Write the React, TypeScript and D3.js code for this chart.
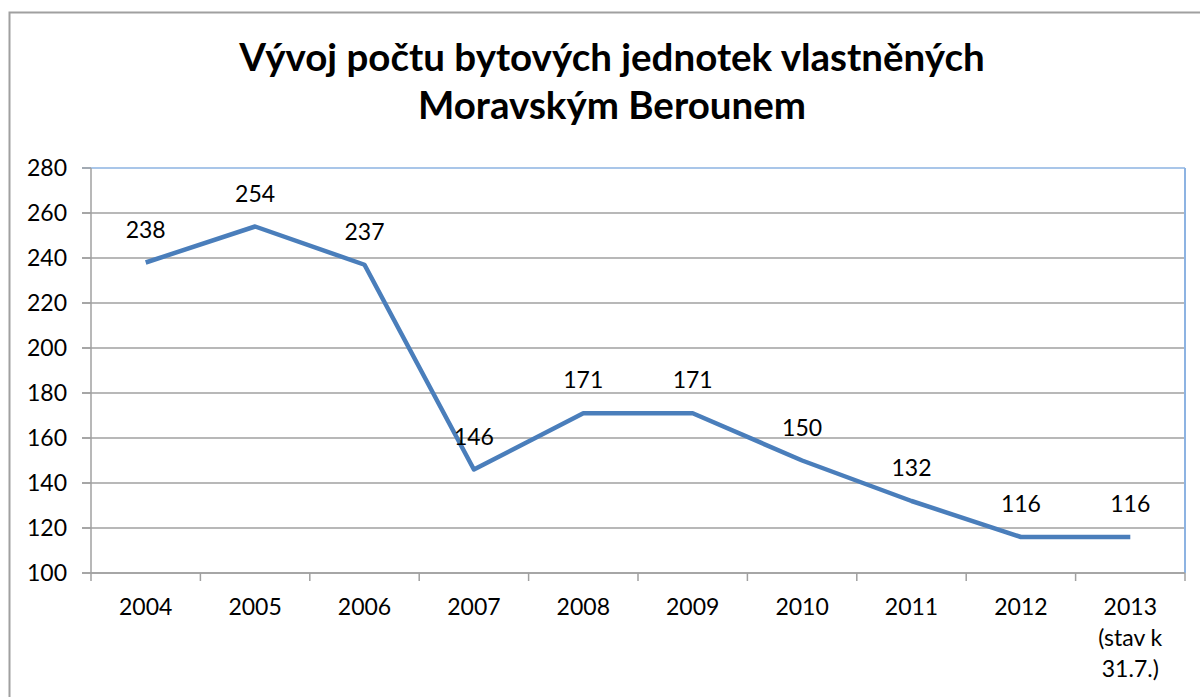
import React from "react";
import * as d3 from "d3";

const categories: string[][] = [
  ["2004"], ["2005"], ["2006"], ["2007"], ["2008"],
  ["2009"], ["2010"], ["2011"], ["2012"], ["2013", "(stav k", "31.7.)"],
];
const values: number[] = [238, 254, 237, 146, 171, 171, 150, 132, 116, 116];
const yTicks: number[] = [100, 120, 140, 160, 180, 200, 220, 240, 260, 280];
const titleLines: string[] = ["Vývoj počtu bytových jednotek vlastněných", "Moravským Berounem"];

const W = 1200, H = 697;
const left = 91, right = 1185, top = 168, bottom = 573;
const font = "Lato, 'Open Sans', sans-serif";

export default function App() {
  const keys = categories.map((c) => c[0]);
  const x = d3.scaleBand<string>().domain(keys).range([left, right]).padding(0);
  const y = d3.scaleLinear().domain([100, 280]).range([bottom, top]);
  const cx = (k: string) => (x(k) as number) + x.bandwidth() / 2;
  const line = d3.line<number>().x((_, i) => cx(keys[i])).y((d) => y(d));
  const bounds = keys.map((k) => x(k) as number).concat([right]);

  return (
    <svg width={W} height={H} style={{ position: "absolute", left: 0, top: 0, background: "#fff" }}>
      <rect x={9.5} y={12.5} width={W + 20} height={H + 20} fill="#fff" stroke="#a0a0a0" strokeWidth={2} />
      {titleLines.map((t, i) => (
        <text key={i} x={612} y={71 + i * 48} textAnchor="middle" fontFamily={font} fontWeight="bold" fontSize={38.5} fill="#000">
          {t}
        </text>
      ))}
      {yTicks.map((t) => (
        <g key={t}>
          <line x1={82} x2={right} y1={y(t)} y2={y(t)} stroke={t === 280 ? "#8db3e2" : "#a0a0a0"} strokeWidth={1.5} />
          <line x1={82} x2={left} y1={y(t)} y2={y(t)} stroke="#a0a0a0" strokeWidth={1.5} />
          <text x={67} y={y(t)} dy="0.36em" textAnchor="end" fontFamily={font} fontSize={23} fill="#000">
            {t}
          </text>
        </g>
      ))}
      <line x1={right} x2={right} y1={top} y2={bottom} stroke="#8db3e2" strokeWidth={2} />
      <line x1={left} x2={left} y1={top} y2={bottom} stroke="#a0a0a0" strokeWidth={1.5} />
      <line x1={left} x2={right} y1={bottom} y2={bottom} stroke="#a0a0a0" strokeWidth={1.5} />
      {bounds.map((b, i) => (
        <line key={i} x1={b} x2={b} y1={bottom} y2={bottom + 8} stroke="#a0a0a0" strokeWidth={1.5} />
      ))}
      {categories.map((c) => (
        <text key={c[0]} x={cx(c[0])} textAnchor="middle" fontFamily={font} fontSize={23} fill="#000">
          {c.map((l, j) => (
            <tspan key={j} x={cx(c[0])} y={615 + j * 31}>{l}</tspan>
          ))}
        </text>
      ))}
      <path d={line(values) as string} fill="none" stroke="#4a7ebb" strokeWidth={4.5} strokeLinejoin="round" />
      {values.map((v, i) => (
        <text key={i} x={cx(keys[i])} y={y(v) - 25} textAnchor="middle" fontFamily={font} fontSize={23} fill="#000">
          {v}
        </text>
      ))}
    </svg>
  );
}
